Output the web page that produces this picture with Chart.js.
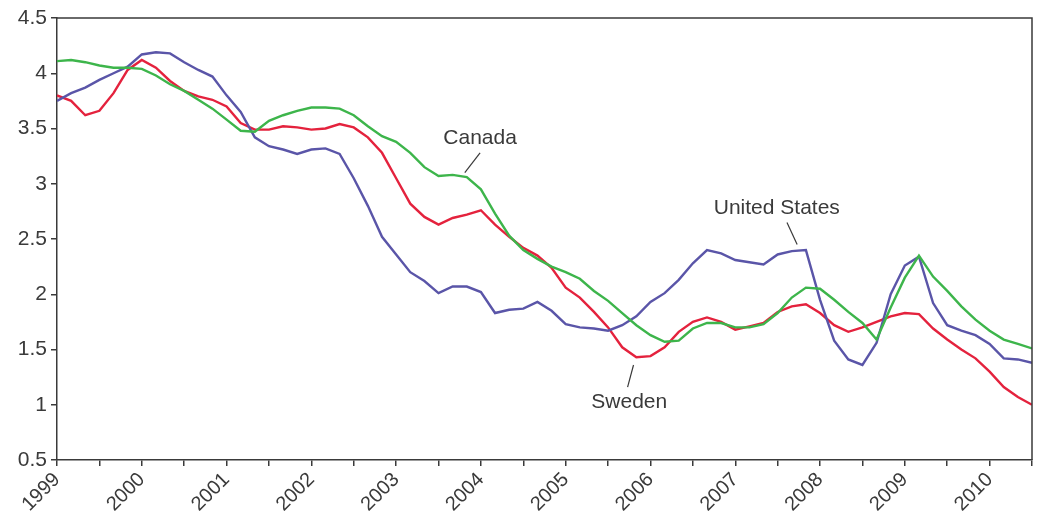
<!DOCTYPE html>
<html>
<head>
<meta charset="utf-8">
<script src="https://cdn.jsdelivr.net/npm/chart.js@4.4.1/dist/chart.umd.min.js"></script>
<style>
    html, body { margin: 0; padding: 0; background: #fff; }
    #grafico { display: block; }
</style>
</head>
<body>
<canvas id="grafico" width="1039" height="523"></canvas>
<script>
// meses (cada dos meses), 1999-01 .. 2010-07
const MESES = [
    '1999-01', '1999-03', '1999-05', '1999-07', '1999-09', '1999-11',
    '2000-01', '2000-03', '2000-05', '2000-07', '2000-09', '2000-11',
    '2001-01', '2001-03', '2001-05', '2001-07', '2001-09', '2001-11',
    '2002-01', '2002-03', '2002-05', '2002-07', '2002-09', '2002-11',
    '2003-01', '2003-03', '2003-05', '2003-07', '2003-09', '2003-11',
    '2004-01', '2004-03', '2004-05', '2004-07', '2004-09', '2004-11',
    '2005-01', '2005-03', '2005-05', '2005-07', '2005-09', '2005-11',
    '2006-01', '2006-03', '2006-05', '2006-07', '2006-09', '2006-11',
    '2007-01', '2007-03', '2007-05', '2007-07', '2007-09', '2007-11',
    '2008-01', '2008-03', '2008-05', '2008-07', '2008-09', '2008-11',
    '2009-01', '2009-03', '2009-05', '2009-07', '2009-09', '2009-11',
    '2010-01', '2010-03', '2010-05', '2010-07'
];

const CANADA = [
    4.11, 4.12, 4.10, 4.07, 4.05, 4.05,
    4.04, 3.98, 3.90, 3.84, 3.76, 3.68,
    3.58, 3.48, 3.47, 3.57, 3.62, 3.66,
    3.69, 3.69, 3.68, 3.62, 3.52, 3.43,
    3.38, 3.28, 3.15, 3.07, 3.08, 3.06,
    2.95, 2.73, 2.53, 2.40, 2.32, 2.25,
    2.20, 2.14, 2.03, 1.94, 1.83, 1.72,
    1.63, 1.57, 1.58, 1.69, 1.74, 1.74,
    1.70, 1.70, 1.73, 1.83, 1.97, 2.06,
    2.05, 1.95, 1.84, 1.74, 1.59, 1.88,
    2.15, 2.35, 2.16, 2.03, 1.89, 1.77,
    1.67, 1.59, 1.55, 1.51
];

const SWEDEN = [
    3.80, 3.75, 3.62, 3.66, 3.82, 4.03,
    4.12, 4.05, 3.93, 3.84, 3.79, 3.76,
    3.70, 3.55, 3.49, 3.49, 3.52, 3.51,
    3.49, 3.50, 3.54, 3.51, 3.42, 3.28,
    3.05, 2.82, 2.70, 2.63, 2.69, 2.72,
    2.76, 2.63, 2.52, 2.42, 2.35, 2.24,
    2.06, 1.97, 1.84, 1.70, 1.52, 1.43,
    1.44, 1.52, 1.66, 1.75, 1.79, 1.75,
    1.68, 1.71, 1.74, 1.84, 1.89, 1.91,
    1.83, 1.72, 1.66, 1.70, 1.75, 1.80,
    1.83, 1.82, 1.69, 1.59, 1.50, 1.42,
    1.30, 1.16, 1.07, 1.00
];

const USA = [
    3.75, 3.82, 3.87, 3.94, 4.00, 4.06,
    4.17, 4.19, 4.18, 4.10, 4.03, 3.97,
    3.80, 3.65, 3.42, 3.34, 3.31, 3.27,
    3.31, 3.32, 3.27, 3.05, 2.80, 2.52,
    2.36, 2.20, 2.12, 2.01, 2.07, 2.07,
    2.02, 1.83, 1.86, 1.87, 1.93, 1.85,
    1.73, 1.70, 1.69, 1.67, 1.72, 1.80,
    1.93, 2.01, 2.13, 2.28, 2.40, 2.37,
    2.31, 2.29, 2.27, 2.36, 2.39, 2.40,
    1.95, 1.58, 1.41, 1.36, 1.56, 2.00,
    2.26, 2.34, 1.92, 1.72, 1.67, 1.63,
    1.55, 1.42, 1.41, 1.38
];

// etiquetas sobre las curvas: [texto, x, y, x1, y1, x2, y2]
const ETIQUETAS = [
    ['Canada', 2003.99, 3.41, 2003.99, 3.28, 2003.81, 3.10],
    ['United States', 2007.49, 2.78, 2007.61, 2.65, 2007.73, 2.45],
    ['Sweden', 2005.75, 1.02, 2005.80, 1.36, 2005.73, 1.16]
];

const Y_MIN = 0.5, Y_MAX = 4.5, X_MIN = 1999, X_MAX = 2010.5;

const aAnio = (m) => {
    const [a, mes] = m.split('-').map(Number);
    return a + (mes - 1) / 12;
};

const serie = (vals) => vals.map((v, i) => ({ x: aAnio(MESES[i]), y: v }));

const FUENTE = "'Liberation Sans', Arial, Helvetica, sans-serif";
const GRIS = '#3a3a3a';

const marcoYEtiquetas = {
    id: 'marcoYEtiquetas',
    afterDatasetsDraw(chart) {
        const { ctx, chartArea: a, scales: { x, y } } = chart;
        ctx.save();
        ctx.strokeStyle = GRIS;
        ctx.lineWidth = 1.5;
        ctx.beginPath();
        ctx.moveTo(a.left, a.top);
        ctx.lineTo(a.right, a.top);
        ctx.lineTo(a.right, a.bottom);
        ctx.stroke();

        ctx.font = `21px ${FUENTE}`;
        ctx.fillStyle = GRIS;
        ctx.textAlign = 'center';
        ctx.textBaseline = 'middle';
        ctx.lineWidth = 1.2;
        ETIQUETAS.forEach(([txt, tx, ty, x1, y1, x2, y2]) => {
            ctx.fillText(txt, x.getPixelForValue(tx), y.getPixelForValue(ty));
            ctx.beginPath();
            ctx.moveTo(x.getPixelForValue(x1), y.getPixelForValue(y1));
            ctx.lineTo(x.getPixelForValue(x2), y.getPixelForValue(y2));
            ctx.stroke();
        });
        ctx.restore();
    }
};

const linea = (label, vals, color) => ({
    label,
    data: serie(vals),
    borderColor: color,
    borderWidth: 2.4,
    pointRadius: 0,
    tension: 0,
    fill: false
});

new Chart(document.getElementById('grafico'), {
    type: 'line',
    data: {
        datasets: [
            linea('Canada', CANADA, '#3db54b'),
            linea('United States', USA, '#5a55a8'),
            linea('Sweden', SWEDEN, '#e4223d')
        ]
    },
    options: {
        responsive: false,
        maintainAspectRatio: false,
        animation: false,
        devicePixelRatio: 1,
        layout: { padding: { top: 18, right: 7, left: 0, bottom: 0 } },
        plugins: { legend: { display: false }, tooltip: { enabled: false } },
        scales: {
            x: {
                type: 'linear',
                min: X_MIN,
                max: X_MAX,
                afterFit: s => { s.height = 63; s.paddingLeft = 0; s.paddingRight = 0; },
                border: { display: true, color: GRIS, width: 1.5 },
                grid: { drawOnChartArea: false, drawTicks: true, tickLength: 6, color: GRIS, lineWidth: 1.5 },
                ticks: {
                    stepSize: 0.5,
                    autoSkip: false,
                    maxRotation: 45,
                    minRotation: 45,
                    padding: 2,
                    color: GRIS,
                    font: { family: FUENTE, size: 20 },
                    callback: v => Number.isInteger(v) ? String(v) : ''
                }
            },
            y: {
                min: Y_MIN,
                max: Y_MAX,
                afterFit: s => { s.width = 57; s.paddingTop = 0; s.paddingBottom = 0; },
                border: { display: true, color: GRIS, width: 1.5 },
                grid: { drawOnChartArea: false, drawTicks: true, tickLength: 6, color: GRIS, lineWidth: 1.5 },
                ticks: {
                    stepSize: 0.5,
                    padding: 4,
                    color: GRIS,
                    font: { family: FUENTE, size: 21 },
                    callback: v => String(v)
                }
            }
        }
    },
    plugins: [marcoYEtiquetas]
});
</script>
</body>
</html>
